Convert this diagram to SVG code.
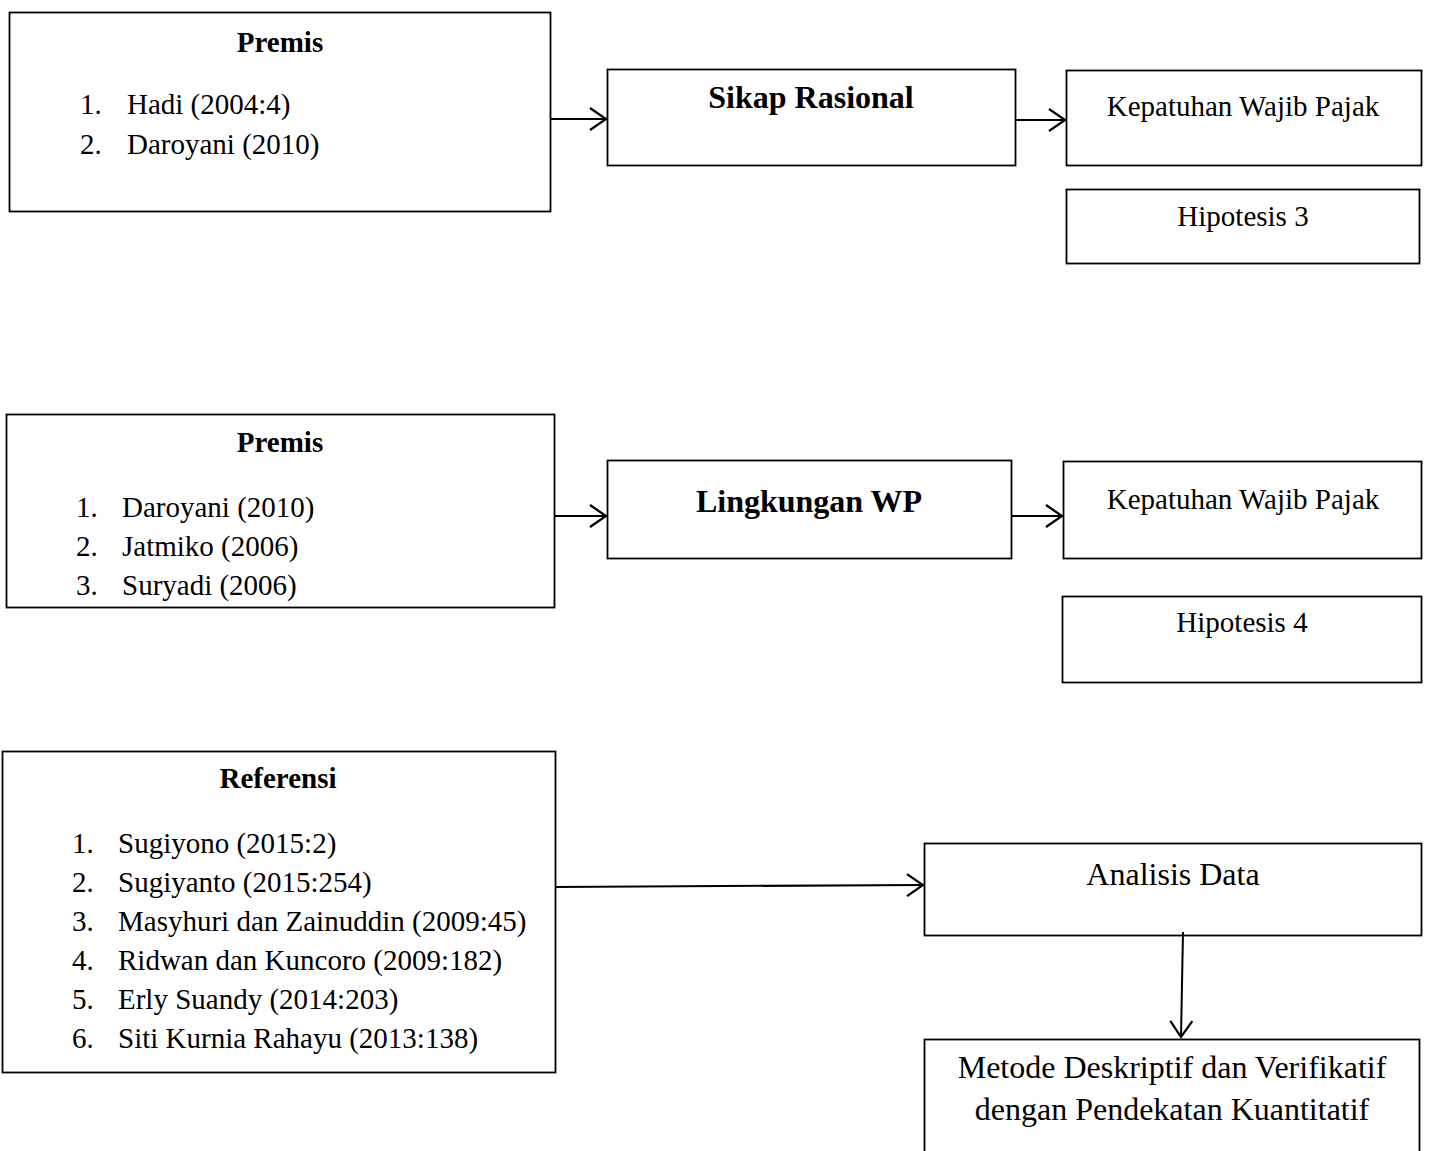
<svg xmlns="http://www.w3.org/2000/svg" width="1429" height="1151" viewBox="0 0 1429 1151">
<style>
  .box { fill: #ffffff; stroke: #000000; stroke-width: 1.8; }
  .t { font-family: "Liberation Serif", "Times New Roman", serif; font-size: 29px; fill: #000000; }
  .b { font-weight: bold; }
  .big { font-size: 32px; }
  .c { text-anchor: middle; }
  .edge { fill: none; stroke: #000000; stroke-width: 2; }
</style>
<defs>
  <marker id="arr" viewBox="0 0 20 26" refX="18" refY="13" markerWidth="20" markerHeight="26" markerUnits="userSpaceOnUse" orient="auto">
    <path d="M2,2 L18,13 L2,24" fill="none" stroke="#000000" stroke-width="2.2"/>
  </marker>
</defs>
<rect width="1429" height="1151" fill="#ffffff"/>

<g id="premis1">
  <rect class="box" x="9.5" y="12.5" width="541" height="199"/>
  <text class="t b c" x="280" y="52">Premis</text>
  <text class="t" x="80" y="114">1.</text>
  <text class="t" x="127" y="114">Hadi (2004:4)</text>
  <text class="t" x="80" y="154">2.</text>
  <text class="t" x="127" y="154">Daroyani (2010)</text>
</g>
<g id="sikap">
  <rect class="box" x="607.5" y="69.5" width="408" height="96"/>
  <text class="t b big c" x="811" y="108">Sikap Rasional</text>
</g>
<g id="kepatuhan1">
  <rect class="box" x="1066.5" y="70.5" width="355" height="95"/>
  <text class="t c" x="1243" y="116">Kepatuhan Wajib Pajak</text>
</g>
<g id="hipotesis3">
  <rect class="box" x="1066.5" y="189.5" width="353" height="74"/>
  <text class="t c" x="1243" y="226">Hipotesis 3</text>
</g>

<g id="premis2">
  <rect class="box" x="6.5" y="414.5" width="548" height="193"/>
  <text class="t b c" x="280" y="452">Premis</text>
  <text class="t" x="76" y="517">1.</text>
  <text class="t" x="122" y="517">Daroyani (2010)</text>
  <text class="t" x="76" y="556">2.</text>
  <text class="t" x="122" y="556">Jatmiko (2006)</text>
  <text class="t" x="76" y="595">3.</text>
  <text class="t" x="122" y="595">Suryadi (2006)</text>
</g>
<g id="lingkungan">
  <rect class="box" x="607.5" y="460.5" width="404" height="98"/>
  <text class="t b big c" x="809" y="512">Lingkungan WP</text>
</g>
<g id="kepatuhan2">
  <rect class="box" x="1063.5" y="461.5" width="358" height="97"/>
  <text class="t c" x="1243" y="509">Kepatuhan Wajib Pajak</text>
</g>
<g id="hipotesis4">
  <rect class="box" x="1062.5" y="596.5" width="359" height="86"/>
  <text class="t c" x="1242" y="632">Hipotesis 4</text>
</g>

<g id="referensi">
  <rect class="box" x="2.5" y="751.5" width="553" height="321"/>
  <text class="t b c" x="278" y="788">Referensi</text>
  <text class="t" x="72" y="853">1.</text>
  <text class="t" x="118" y="853">Sugiyono (2015:2)</text>
  <text class="t" x="72" y="892">2.</text>
  <text class="t" x="118" y="892">Sugiyanto (2015:254)</text>
  <text class="t" x="72" y="931">3.</text>
  <text class="t" x="118" y="931">Masyhuri dan Zainuddin (2009:45)</text>
  <text class="t" x="72" y="970">4.</text>
  <text class="t" x="118" y="970">Ridwan dan Kuncoro (2009:182)</text>
  <text class="t" x="72" y="1009">5.</text>
  <text class="t" x="118" y="1009">Erly Suandy (2014:203)</text>
  <text class="t" x="72" y="1048">6.</text>
  <text class="t" x="118" y="1048">Siti Kurnia Rahayu (2013:138)</text>
</g>
<g id="analisis">
  <rect class="box" x="924.5" y="843.5" width="497" height="92"/>
  <text class="t big c" x="1173" y="885">Analisis Data</text>
</g>
<g id="metode">
  <rect class="box" x="924.5" y="1039.5" width="495" height="130"/>
  <text class="t big c" x="1172" y="1078">Metode Deskriptif dan Verifikatif</text>
  <text class="t big c" x="1172" y="1120">dengan Pendekatan Kuantitatif</text>
</g>

<g id="connectors">
  <line class="edge" x1="550" y1="119" x2="606" y2="119" marker-end="url(#arr)"/>
  <line class="edge" x1="1015" y1="120" x2="1065" y2="120" marker-end="url(#arr)"/>
  <line class="edge" x1="554" y1="516" x2="606" y2="516" marker-end="url(#arr)"/>
  <line class="edge" x1="1011" y1="516" x2="1062" y2="516" marker-end="url(#arr)"/>
  <line class="edge" x1="555" y1="887" x2="923" y2="885" marker-end="url(#arr)"/>
  <line class="edge" x1="1183" y1="932" x2="1181" y2="1037" marker-end="url(#arr)"/>
</g>
</svg>
